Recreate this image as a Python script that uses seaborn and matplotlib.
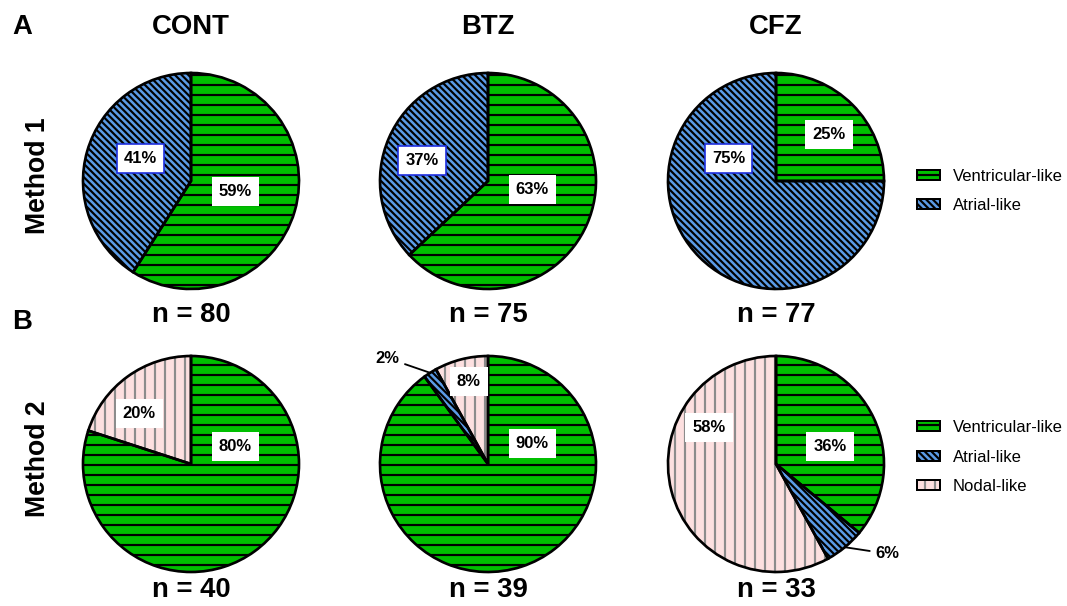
import matplotlib
matplotlib.use("Agg")
import matplotlib.pyplot as plt
from matplotlib.patches import Patch
import numpy as np
import pandas as pd
import seaborn as sns

# ---- data -------------------------------------------------------------
treatments = ["CONT", "BTZ", "CFZ"]
methods = ["Method 1", "Method 2"]
panel_tags = ["A", "B"]
types_m1 = ["Ventricular-like", "Atrial-like"]
types_m2 = ["Ventricular-like", "Atrial-like", "Nodal-like"]

m1_cont = [59, 41]
m1_btz = [63, 37]
m1_cfz = [25, 75]
m2_cont = [80, 0, 20]
m2_btz = [90, 2, 8]
m2_cfz = [36, 6, 58]

n_m1 = [80, 75, 77]
n_m2 = [40, 39, 33]

rows = []
for method, types, series in [
    ("Method 1", types_m1, [m1_cont, m1_btz, m1_cfz]),
    ("Method 2", types_m2, [m2_cont, m2_btz, m2_cfz]),
]:
    for trt, vals in zip(treatments, series):
        for t, v in zip(types, vals):
            rows.append({"method": method, "treatment": trt, "type": t, "pct": v})
df = pd.DataFrame(rows)
counts = {"Method 1": n_m1, "Method 2": n_m2}
legend_types = {"Method 1": types_m1, "Method 2": types_m2}

# ---- style ------------------------------------------------------------
sns.set_theme(style="white")
plt.rcParams["font.family"] = ["Liberation Sans", "DejaVu Sans"]
plt.rcParams["text.color"] = "black"
plt.rcParams["hatch.linewidth"] = 1.3

face = {"Ventricular-like": "#00bf00", "Atrial-like": "#5b9be6", "Nodal-like": "#fde0e0"}
hatch = {"Ventricular-like": "--", "Atrial-like": "\\" * 6, "Nodal-like": "||"}
ink = {"Ventricular-like": "black", "Atrial-like": "black", "Nodal-like": "#8c8c8c"}
label_edge = {"Method 1": {"Atrial-like": "#1f2fe0"}, "Method 2": {}}

# in-wedge label anchors, in units of the pie radius
label_anchor = {
    ("Method 1", "CONT"): [(0.41, -0.10), (-0.47, 0.21)],
    ("Method 1", "BTZ"): [(0.41, -0.08), (-0.61, 0.19)],
    ("Method 1", "CFZ"): [(0.49, 0.43), (-0.44, 0.21)],
    ("Method 2", "CONT"): [(0.41, 0.16), None, (-0.48, 0.47)],
    ("Method 2", "BTZ"): [(0.41, 0.19), (-0.93, 0.98), (-0.18, 0.76)],
    ("Method 2", "CFZ"): [(0.50, 0.16), (1.03, -0.83), (-0.62, 0.34)],
}

W, H, DPI = 1067, 606, 120
R = 108
col_x = [191, 488, 776]
row_y = [181, 464]
title_y = 27
n_y = [315, 590]
legend_y = [191, 457]

fig = plt.figure(figsize=(W / DPI, H / DPI), dpi=DPI)
fig.patch.set_facecolor("white")


def fx(x):
    return x / W


def fy(y):
    return 1 - y / H


def draw_pie(ax, method, trt):
    sub = df[(df.method == method) & (df.treatment == trt)]
    anchors = label_anchor[(method, trt)]
    keep = [i for i, v in enumerate(sub.pct) if v > 0]
    vals = sub.pct.values[keep]
    types = sub.type.values[keep]
    anchors = [anchors[i] for i in keep]

    wedges, _ = ax.pie(vals, startangle=90, counterclock=False, radius=1,
                       colors=[face[t] for t in types],
                       wedgeprops=dict(linewidth=0))
    for w, t in zip(wedges, types):
        w.set_hatch(hatch[t])
        w.set_edgecolor(ink[t])
        w.set_linewidth(0)
        w.set_clip_on(False)
    outline, _ = ax.pie(vals, startangle=90, counterclock=False, radius=1,
                        colors=["none"] * len(vals),
                        wedgeprops=dict(edgecolor="black", linewidth=1.6, fill=False))
    for w in outline:
        w.set_clip_on(False)

    for w, v, t, a in zip(wedges, vals, types, anchors):
        txt = f"{v}%"
        if v < 7:
            mid = np.deg2rad((w.theta1 + w.theta2) / 2)
            ax.annotate(txt, xy=(np.cos(mid), np.sin(mid)), xytext=a,
                        ha="center", va="center", fontsize=10, fontweight="bold",
                        color="black", annotation_clip=False,
                        arrowprops=dict(arrowstyle="-", color="black", lw=1.1,
                                        shrinkA=1, shrinkB=0))
        else:
            ec = label_edge[method].get(t, "none")
            ax.text(a[0], a[1], txt, ha="center", va="center", fontsize=10,
                    fontweight="bold", color="black",
                    bbox=dict(boxstyle="square,pad=0.42", fc="white", ec=ec, lw=1.0))
    ax.set_xlim(-1, 1)
    ax.set_ylim(-1, 1)
    ax.set_aspect("equal")
    ax.axis("off")


for r, method in enumerate(methods):
    for c, trt in enumerate(treatments):
        cx, cy = col_x[c], row_y[r]
        ax = fig.add_axes([fx(cx - R), fy(cy + R), 2 * R / W, 2 * R / H])
        draw_pie(ax, method, trt)
        fig.text(fx(cx), fy(n_y[r]), f"n = {counts[method][c]}", ha="center",
                 va="center", fontsize=16.5, fontweight="bold")
    fig.text(fx(38), fy(row_y[r] - 5), method, rotation=90, ha="center",
             va="center", fontsize=16, fontweight="bold")

    handles = []
    for t in legend_types[method]:
        handles.append((Patch(facecolor=face[t], hatch=hatch[t], edgecolor=ink[t], lw=0),
                        Patch(fill=False, edgecolor="black", lw=1.2)))
    fig.legend(handles, legend_types[method], loc="center left",
               bbox_to_anchor=(fx(917), fy(legend_y[r])), frameon=False,
               borderpad=0, borderaxespad=0, handlelength=1.35, handleheight=0.55,
               handletextpad=0.8, labelspacing=0.85, fontsize=10, labelcolor="black")

for c, trt in enumerate(treatments):
    fig.text(fx(col_x[c]), fy(title_y), trt, ha="center", va="center",
             fontsize=16.5, fontweight="bold")

fig.text(fx(22), fy(27), panel_tags[0], ha="center", va="center",
         fontsize=16.5, fontweight="bold")
fig.text(fx(22), fy(322), panel_tags[1], ha="center", va="center",
         fontsize=16.5, fontweight="bold")

fig.savefig("out.png", dpi=DPI, facecolor="white")
